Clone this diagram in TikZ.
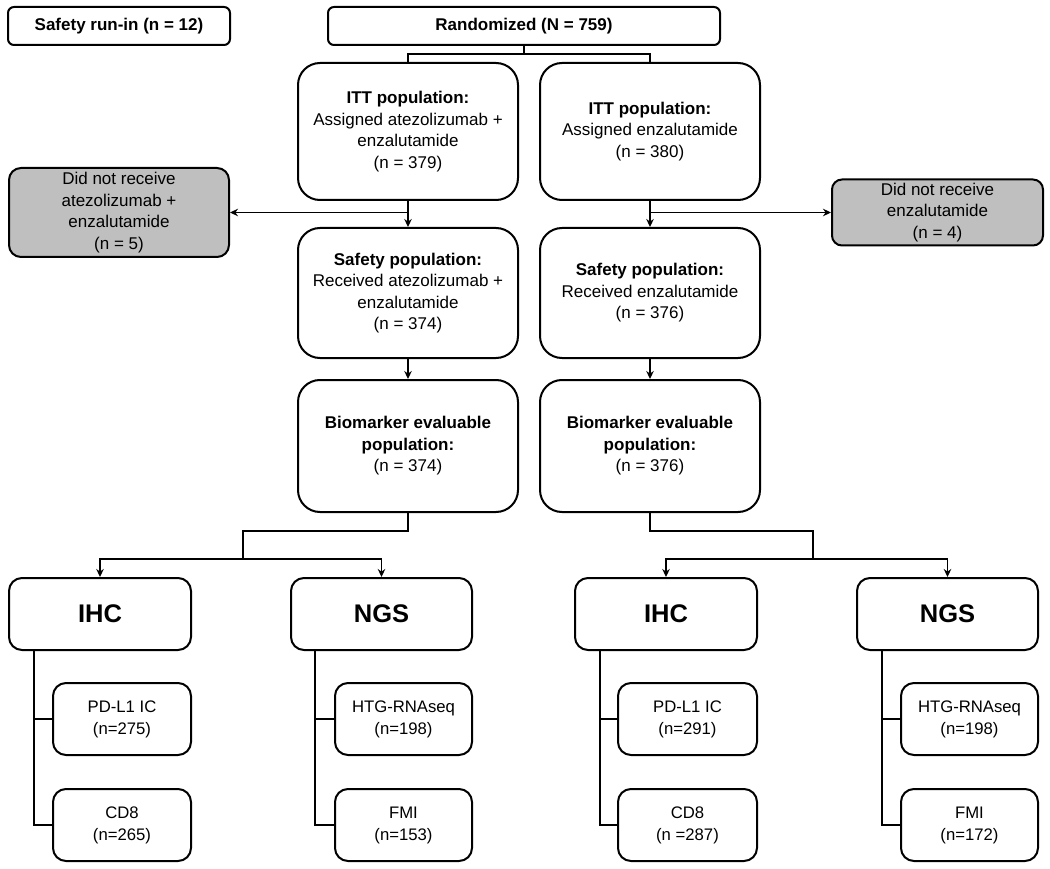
\documentclass[tikz,border=0pt]{standalone}
\usepackage{fontspec}
\setmainfont{Liberation Sans}
\usetikzlibrary{arrows.meta,calc}
\begin{document}
\begin{tikzpicture}[x=1pt,y=-1pt,
  base/.style={draw=black, line width=2pt, align=center, inner sep=0pt, anchor=center,
     font=\fontsize{17}{21.5}\selectfont},
  topbox/.style={base, rounded corners=6pt, minimum width=222pt, minimum height=38pt},
  bigbox/.style={base, rounded corners=22pt, minimum width=220pt},
  graybox/.style={base, rounded corners=12pt, fill=gray!50},
  headbox/.style={base, rounded corners=13pt, minimum width=182pt, minimum height=72pt,
     font=\fontsize{25.5}{30}\selectfont\bfseries},
  subbox/.style={base, rounded corners=13pt, minimum height=72pt,
     font=\fontsize{16.7}{22}\selectfont},
  conn/.style={line width=1.9pt},
  arr/.style={conn, -{Stealth[length=8pt,width=7.5pt]}}
]
\useasboundingbox (0,0) rectangle (1050,869);

\node[topbox, font=\fontsize{17}{22}\selectfont\bfseries] (run) at (119,26) {Safety run-in (n = 12)};
\node[topbox, minimum width=392pt, font=\fontsize{17}{22}\selectfont\bfseries] (rand) at (524,26) {Randomized (N = 759)};

\node[bigbox, minimum height=137pt] (itt1) at (408,131.5) {\textbf{ITT population:}\\Assigned atezolizumab +\\enzalutamide\\(n = 379)};
\node[bigbox, minimum height=137pt] (itt2) at (650,131.5) {\textbf{ITT population:}\\Assigned enzalutamide\\(n = 380)};

\node[graybox, minimum width=220pt, minimum height=89pt] (dnr1) at (119,212.5) {Did not receive\\atezolizumab +\\enzalutamide\\(n = 5)};
\node[graybox, minimum width=211pt, minimum height=66pt, rounded corners=10pt] (dnr2) at (937.5,212.5) {Did not receive\\enzalutamide\\(n = 4)};

\node[bigbox, minimum height=130pt] (saf1) at (408,293) {\textbf{Safety population:}\\Received atezolizumab +\\enzalutamide\\(n = 374)};
\node[bigbox, minimum height=130pt] (saf2) at (650,293) {\textbf{Safety population:}\\Received enzalutamide\\(n = 376)};

\node[bigbox, minimum height=132pt] (bio1) at (408,446) {\textbf{Biomarker evaluable}\\\textbf{population:}\\(n = 374)};
\node[bigbox, minimum height=132pt] (bio2) at (650,446) {\textbf{Biomarker evaluable}\\\textbf{population:}\\(n = 376)};

\node[headbox] (ihc1) at (100,614) {IHC};
\node[headbox, minimum width=181pt] (ngs1) at (381.5,614) {NGS};
\node[headbox] (ihc2) at (666,614) {IHC};
\node[headbox, minimum width=181pt] (ngs2) at (947.5,614) {NGS};

\node[subbox, minimum width=138pt] (pd1) at (122,719) {PD-L1 IC\\(n=275)};
\node[subbox, minimum width=138pt] (cd1) at (122,825) {CD8\\(n=265)};
\node[subbox, minimum width=137pt] (htg1) at (403.5,719) {HTG-RNAseq\\(n=198)};
\node[subbox, minimum width=137pt] (fmi1) at (403.5,825) {FMI\\(n=153)};
\node[subbox, minimum width=139pt] (pd2) at (687.5,719) {PD-L1 IC\\(n=291)};
\node[subbox, minimum width=139pt] (cd2) at (687.5,825) {CD8\\(n =287)};
\node[subbox, minimum width=137pt] (htg2) at (969.5,719) {HTG-RNAseq\\(n=198)};
\node[subbox, minimum width=137pt] (fmi2) at (969.5,825) {FMI\\(n=172)};

% randomization split
\coordinate (j0) at (524,54);
\draw[conn] (rand.south) -- (j0);
\draw[conn] (itt1.north) |- (j0) -| (itt2.north);

% ITT -> safety, with exclusions
\draw[arr] (itt1.south) -- (saf1.north);
\draw[arr] (itt2.south) -- (saf2.north);
\draw[arr] (itt1.south |- dnr1.east) -- (dnr1.east);
\draw[arr] (itt2.south |- dnr2.west) -- (dnr2.west);

% safety -> biomarker
\draw[arr] (saf1.south) -- (bio1.north);
\draw[arr] (saf2.south) -- (bio2.north);

% biomarker -> IHC / NGS
\coordinate (k1) at (243,531);
\coordinate (m1) at (243,559);
\coordinate (k2) at (813,531);
\coordinate (m2) at (813,559);
\draw[conn] (bio1.south) |- (k1) -- (m1);
\draw[arr] (m1) -| (ihc1.north);
\draw[arr] (m1) -| (ngs1.north);
\draw[conn] (bio2.south) |- (k2) -- (m2);
\draw[arr] (m2) -| (ihc2.north);
\draw[arr] (m2) -| (ngs2.north);

% sub-assays
\draw[conn] ([xshift=26pt]ihc1.south west) |- (cd1.west);
\draw[conn] ([xshift=26pt]ihc1.south west |- pd1.west) -- (pd1.west);
\draw[conn] ([xshift=25pt]ngs1.south west) |- (fmi1.west);
\draw[conn] ([xshift=25pt]ngs1.south west |- htg1.west) -- (htg1.west);
\draw[conn] ([xshift=26pt]ihc2.south west) |- (cd2.west);
\draw[conn] ([xshift=26pt]ihc2.south west |- pd2.west) -- (pd2.west);
\draw[conn] ([xshift=26pt]ngs2.south west) |- (fmi2.west);
\draw[conn] ([xshift=26pt]ngs2.south west |- htg2.west) -- (htg2.west);
\end{tikzpicture}
\end{document}
